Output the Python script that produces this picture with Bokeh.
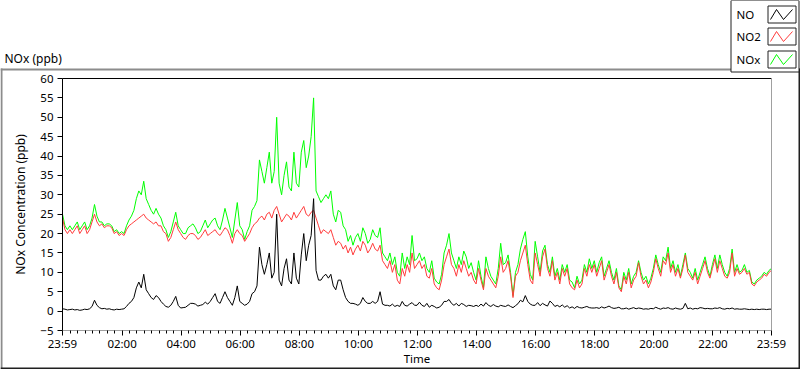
from bokeh.plotting import figure
from bokeh.models import Range1d, FixedTicker
from bokeh.core.properties import value
from bokeh.embed import file_html
from bokeh.resources import INLINE

# ---------------- data (5-minute samples, starting 23:59) ----------------
sample_step_min = 5

no2_ppb = [
    24, 21, 20, 21, 20, 21, 22, 20, 21, 22, 20, 21,
    23, 25, 23, 22, 22.5, 21.5, 22, 22, 21.5, 20, 20.5, 19.5,
    20, 19.5, 21, 22, 22.5, 23, 23.5, 24, 24.5, 25, 24, 23.5,
    23, 22.5, 23, 22, 22, 20.5, 20, 18, 19, 21, 23, 21,
    20, 19, 18.5, 19.5, 20, 20, 19.5, 18.5, 19, 20, 21, 19.5,
    20, 20.5, 21, 20, 19.5, 20.5, 21.5, 21, 19.5, 17.5, 20, 21,
    20, 19.5, 18, 19, 20, 21.5, 22.5, 23, 24, 24.5, 23.5, 25,
    25.5, 24, 26, 27, 25, 23, 24, 25, 24.5, 23.5, 25.5, 24,
    25, 26, 27, 25, 24.5, 25.5, 26, 24, 22, 20, 21, 20.5,
    20, 21, 19, 17, 18, 17.5, 16, 17, 15, 16.5, 14.5, 16,
    17, 15.5, 18, 17, 15, 16, 17.5, 16, 15.5, 17, 13, 12,
    11, 13, 10, 12, 8, 7, 11, 9, 12, 10, 15, 11,
    12, 13, 11, 12, 9, 8.5, 11, 7, 6, 5.5, 8, 12,
    14, 16, 12, 11, 9, 12, 10, 13, 11, 9, 10, 8,
    7, 11, 8, 5.5, 11, 9, 8, 7, 6, 9, 14, 10,
    11, 13, 9, 3.5, 9, 10, 13, 15, 17, 12, 8, 7,
    15, 12, 9, 14, 16, 11, 9, 13, 8, 10, 7, 11,
    9, 11, 7, 6, 5.5, 8, 6, 7, 11, 9, 12, 10,
    12, 9, 11, 13, 8, 10, 12, 9, 7, 10, 6, 5,
    9, 7, 10, 6, 8, 9, 12.5, 9, 7, 8, 6, 7.5,
    10, 13.5, 11, 9, 13, 12, 15, 10, 12, 9, 11, 8.5,
    11, 14.5, 10, 9, 8, 10, 7, 9, 11, 13, 10, 8.5,
    11, 13.5, 10, 13, 11, 9, 8.5, 10, 15, 9, 11, 9.5,
    10, 11, 9.5, 10, 7, 6.5, 7.5, 8, 8.5, 9.5, 9, 10, 10.5,
]

nox_ppb = [
    25, 22, 21, 22, 21, 22, 23, 21, 22, 23, 21, 22,
    24, 27.5, 24.5, 23, 23, 22, 22.5, 22.5, 22, 20.5, 21, 20,
    20.5, 20, 22, 23.5, 24.5, 26, 29, 31, 30, 33.5, 29, 27.5,
    26, 25, 26.5, 25, 24, 22, 21, 19, 20.5, 23, 25.5, 22,
    21, 20, 20, 21.5, 22, 22.5, 21.5, 20, 20.5, 22, 23.5, 21.5,
    22.5, 23.5, 24, 22, 21, 23.5, 26.5, 24, 21.5, 19, 23.5, 28,
    22, 21, 18.5, 20.5, 22, 26, 27, 28.5, 39, 36, 33, 37,
    41, 33, 36, 50, 33, 30, 35, 38.5, 32, 31, 41, 33,
    32, 41, 44, 37, 40, 45, 55, 31, 29.5, 28, 29, 30,
    29, 31, 25, 23, 26, 25.5, 22, 21, 18, 19.5, 17, 19,
    20, 18, 21.5, 20, 17.5, 18.5, 21, 19.5, 19, 21.5, 15, 14,
    13, 15, 12, 14, 10, 9, 15, 11, 14, 12, 19.5, 13,
    13.5, 15, 13, 14, 11, 10, 13, 8.5, 7.5, 7, 9.5, 15,
    17, 20, 15, 13, 11, 14, 12, 15.5, 14, 11, 12.5, 10,
    8, 13, 9, 6, 14, 11, 9, 8, 7, 11, 17.5, 12,
    12.5, 14.5, 10, 4, 10, 12, 16, 18.5, 20.5, 14, 9.5, 8,
    18, 14, 10, 15.5, 17, 12, 10, 14, 9, 11, 8, 12,
    10, 12, 8, 7.5, 6, 9, 7, 8, 12, 10, 13.5, 11,
    13, 10, 12.5, 14, 9, 11, 13, 10, 8, 11, 6.5, 5.5,
    10, 8, 11, 7, 9, 10, 13, 10, 8, 9, 7, 8.5,
    11, 14.5, 12, 10, 14, 13, 16.5, 11, 13, 10, 12, 9,
    12, 15, 11, 10, 8.5, 11, 8, 10, 12, 14, 11, 9,
    12, 14.5, 11, 14.5, 12, 10, 9, 11, 16, 10, 12, 10,
    10.5, 12, 10, 10.5, 7.5, 7, 8, 8.5, 9, 10, 9.5, 10.5, 11,
]

no_ppb = [
    0.6, 0.5, 0.3, 0.4, 0.5, 0.3, 0.4, 0.2, 0.3, 0.5, 0.4, 0.6,
    1.2, 2.8, 1.5, 0.9, 0.6, 0.7, 0.5, 0.6, 0.4, 0.3, 0.5, 0.4,
    0.5, 0.6, 1.2, 2, 2.5, 3.5, 6, 7.5, 6, 9.5, 5.5, 4.5,
    3.5, 3, 4, 3.5, 2.5, 1.8, 1.2, 1, 1.5, 2.5, 3.8, 1.5,
    0.8, 0.9, 1, 1.5, 2, 2, 1.8, 1.3, 1.5, 1.7, 2.3, 1.8,
    2.5, 3.5, 4.5, 2.5, 2, 3.5, 5, 3.5, 2.5, 1.5, 3.5, 6.5,
    2.5, 2, 1.5, 1.8, 2.5, 4.5, 5, 6.5, 16.5, 12, 9.5, 12,
    15, 8.5, 10, 25, 8, 6.5, 11, 13.5, 8, 7, 15, 8.5,
    7, 14.5, 20, 13, 17, 19.5, 29, 10.5, 8, 8, 9, 9.5,
    8.5, 9.5, 6.5, 5.5, 8, 8, 5.5, 3.5, 2.5, 2, 2, 1.8,
    1.5, 2, 3.5, 2.5, 2, 2, 2.5, 2, 2.5, 5, 1.8, 1.5,
    1.5, 1.3, 1.8, 1.2, 1.5, 1.2, 2.5, 1.5, 1.3, 1.8, 2.2, 1.5,
    1.5, 2.3, 1.5, 1.2, 2, 1, 1.5, 1.2, 0.8, 1, 1.5, 2.5,
    2.5, 3, 2, 1.5, 2, 1.3, 2, 1.7, 1.2, 1.5, 1.4, 1.2,
    1.5, 1.2, 1.8, 1.3, 2.2, 1.5, 1.2, 1.7, 1.3, 1.1, 1.5, 1.3,
    1.2, 1.6, 1.2, 0.9, 1.4, 1.9, 2.8, 2.4, 4, 2.5, 1.8, 1.5,
    1.5, 2.2, 1.4, 2, 1.6, 1.3, 2.6, 2, 1.2, 1.5, 1.1, 1.6,
    1, 1.4, 0.8, 1.1, 0.7, 1.2, 0.9, 0.8, 1, 1.2, 0.9, 0.8,
    0.8, 0.9, 0.7, 1.1, 0.8, 1, 1.3, 0.9, 0.7, 0.8, 1, 0.6,
    0.6, 0.8, 0.5, 0.7, 0.9, 0.6, 0.8, 0.7, 0.5, 0.6, 0.5, 0.7,
    0.6, 1, 0.7, 0.5, 0.8, 0.7, 0.9, 0.6, 0.5, 0.8, 0.6, 0.5,
    0.7, 2, 0.6, 0.8, 0.5, 0.7, 0.6, 0.9, 0.8, 0.6, 0.7, 0.6,
    0.6, 0.8, 0.7, 0.9, 0.6, 0.5, 0.7, 0.6, 0.8, 0.5, 0.6, 0.5,
    0.5, 0.6, 0.5, 0.4, 0.5, 0.4, 0.5, 0.4, 0.5, 0.5, 0.4, 0.5, 0.5,
]

minutes = [i * sample_step_min for i in range(len(no_ppb))]

x_tick_minutes = [0, 121, 241, 361, 481, 601, 721, 841, 961, 1081, 1201, 1321, 1440]
x_tick_labels = ["23:59", "02:00", "04:00", "06:00", "08:00", "10:00", "12:00",
                 "14:00", "16:00", "18:00", "20:00", "22:00", "23:59"]
y_ticks = [-5, 0, 5, 10, 15, 20, 25, 30, 35, 40, 45, 50, 55, 60]

series_names = ["NO", "NO2", "NOx"]
series_colors = ["#000000", "#ff3c3c", "#00ff00"]

# ---------------- layout geometry (page pixels) ----------------
W, H = 800, 369
PL, PR, PT, PB = 62, 771, 78, 330          # plot-area box in page pixels
X0, X1 = x_tick_minutes[0], x_tick_minutes[-1]
Y0, Y1 = y_ticks[0], y_ticks[-1]
kx = (PR - PL) / (X1 - X0)
ky = (PB - PT) / (Y1 - Y0)


def dx(px):
    return X0 + (px - PL) / kx


def dy(py):
    return Y1 - (py - PT) / ky


FONT = "Noto Sans"
FS = "11.5px"

p = figure(width=W, height=H, output_backend="svg", toolbar_location=None,
           x_range=Range1d(dx(0), dx(W)), y_range=Range1d(dy(H), dy(0)),
           min_border=0, min_border_left=0, min_border_right=0,
           min_border_top=0, min_border_bottom=0,
           background_fill_color="white", border_fill_color="white")
p.outline_line_color = None
p.grid.visible = False

# ---------- outer panel frame (raised look) ----------
p.quad(left=[dx(0), dx(0), dx(0), dx(W - 2)],
       right=[dx(W), dx(2), dx(W), dx(W)],
       top=[dy(68), dy(68), dy(H - 2), dy(68)],
       bottom=[dy(70), dy(H), dy(H), dy(H)],
       fill_color=["#8c8c8c", "#8c8c8c", "#202020", "#202020"], line_color=None)

# ---------- data ----------
p.line(minutes, nox_ppb, line_color=series_colors[2], line_width=1)
p.line(minutes, no2_ppb, line_color=series_colors[1], line_width=1)
p.line(minutes, no_ppb, line_color=series_colors[0], line_width=1)

# ---------- plot-area edges (sunken look) ----------
p.segment(x0=[X0, X0], y0=[Y1, Y0], x1=[X1, X1], y1=[Y1, Y0],
          line_color=["black", "#a0a0a0"], line_width=1)
p.segment(x0=[X1], y0=[Y0], x1=[X1], y1=[Y1], line_color="#a0a0a0", line_width=1)

# ---------- axes (drawn at fixed data locations) ----------
minor = [m for m in range(16, 1440, 15) if m not in x_tick_minutes]
xa = p.xaxis[0]
xa.fixed_location = Y0
xa.bounds = (X0, X1)
xa.ticker = FixedTicker(ticks=x_tick_minutes, minor_ticks=minor)
xa.major_label_overrides = {m: s for m, s in zip(x_tick_minutes, x_tick_labels)}
xa.axis_line_color = None
xa.major_tick_out = 5
xa.major_tick_in = 0
xa.minor_tick_out = 3
xa.minor_tick_in = 0
xa.major_tick_line_color = "black"
xa.minor_tick_line_color = "black"
xa.major_label_standoff = 0
xa.major_label_text_font = FONT
xa.major_label_text_font_size = FS
xa.major_label_text_color = "black"

ya = p.yaxis[0]
ya.fixed_location = X0
ya.bounds = (Y0, Y1)
ya.ticker = FixedTicker(ticks=y_ticks, minor_ticks=[])
ya.axis_label = "NOx Concentration (ppb)"
ya.axis_line_color = "black"
ya.major_tick_out = 5
ya.major_tick_in = 0
ya.minor_tick_out = 0
ya.minor_tick_in = 0
ya.major_tick_line_color = "black"
ya.major_label_standoff = 4
ya.axis_label_standoff = 8
ya.major_label_text_font = FONT
ya.major_label_text_font_size = FS
ya.major_label_text_color = "black"
ya.axis_label_text_font = FONT
ya.axis_label_text_font_size = "12px"
ya.axis_label_text_font_style = "normal"
ya.axis_label_text_color = "black"

# ---------- x axis title and chart title ----------
p.text(x=[dx((PL + PR) / 2)], y=[dy(358)], text=["Time"], text_font=value(FONT),
       text_font_size=value(FS), text_color="black",
       text_baseline="middle", text_align="center")
p.text(x=[dx(4)], y=[dy(58)], text=["NOx (ppb)"], text_font=value(FONT),
       text_font_size=value("12px"), text_color="black",
       text_baseline="middle", text_align="left")

# ---------- legend panel ----------
row_centers = [14, 36, 59]
p.quad(left=[dx(730.5)], right=[dx(798.5)], top=[dy(0)], bottom=[dy(71.5)],
       fill_color="white", line_color="#202020", line_width=1)
p.text(x=[dx(736)] * 3, y=[dy(c) for c in row_centers], text=series_names,
       text_font=value(FONT), text_font_size=value(FS), text_color="black",
       text_baseline="middle", text_align="left")
p.quad(left=[dx(767.5)] * 3, right=[dx(795.5)] * 3,
       top=[dy(c - 8.5) for c in row_centers], bottom=[dy(c + 8.5) for c in row_centers],
       fill_color="white", line_color="#202020", line_width=1)
zig_xs = [[dx(v) for v in (770, 776, 783, 792)] for _ in row_centers]
zig_ys = [[dy(v) for v in (c + 5, c - 5, c + 5, c - 5)] for c in row_centers]
p.multi_line(xs=zig_xs, ys=zig_ys, line_color=series_colors, line_width=1)

open("out.html", "w").write(file_html(p, INLINE))
